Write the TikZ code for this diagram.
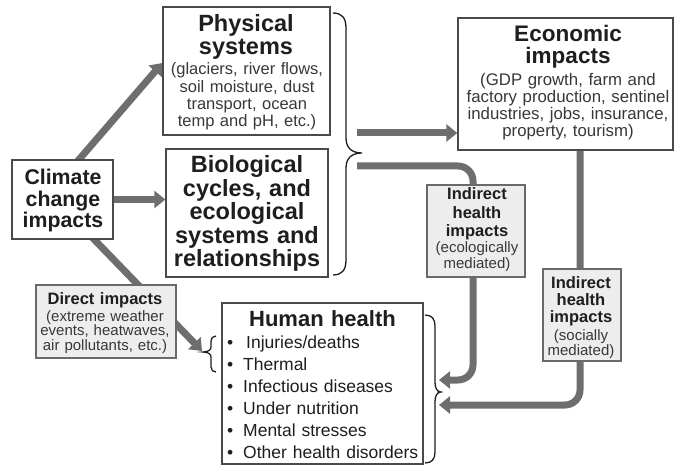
\documentclass[tikz,border=0pt]{standalone}
\usepackage{fontspec}
\setmainfont{Liberation Sans}
\usetikzlibrary{arrows.meta,calc}
\pgfdeclarelayer{bg}
\pgfsetlayers{bg,main}
\definecolor{arrc}{HTML}{6E6E6E}
\definecolor{boxc}{HTML}{4A4A4A}
\definecolor{labc}{HTML}{6A6A6A}
\definecolor{labf}{HTML}{EDEDED}
\definecolor{txtc}{HTML}{1E1E1E}
\definecolor{subc}{HTML}{383838}
\begin{document}
\begin{tikzpicture}[x=1pt,y=-1pt,
  mainbox/.style={draw=boxc, line width=1.3pt, fill=white, inner sep=0pt},
  labbox/.style={draw=labc, line width=1.1pt, fill=labf, inner sep=0pt},
  fatarrow/.style={draw=arrc, line width=7pt, -{Triangle[length=11pt,width=17pt]}},
  bracepath/.style={draw=txtc, line width=1.3pt},
  tx/.style={inner sep=0pt, anchor=base, align=center, text=txtc},
  txl/.style={inner sep=0pt, anchor=base west, align=left, text=txtc}]
\useasboundingbox (0,0) rectangle (675,465);

% ---------- coordinates used by connectors
\coordinate (bb1) at (357,133);
\coordinate (bb2) at (357,166);
\coordinate (hb1) at (439,380);
\coordinate (hb2) at (439,405);
\coordinate (sbr) at (202,351);
\coordinate (ecoturn) at (473,166);

% ---------- main boxes
\node[mainbox, minimum width=167pt, minimum height=128pt] (phys) at (246.5,71) {};
\node[mainbox, minimum width=162pt, minimum height=128pt] (bio) at (247,213) {};
\node[mainbox, minimum width=101pt, minimum height=79pt] (clim) at (62.5,199.5) {};
\node[mainbox, minimum width=215pt, minimum height=132pt] (econ) at (565.5,84) {};
\node[mainbox, minimum width=201pt, minimum height=161pt] (hh) at (322.5,383.5) {};

% ---------- label boxes (over the arrows)
\node[labbox, minimum width=98pt, minimum height=92pt] (ieco) at (476,231) {};
\node[labbox, minimum width=78pt, minimum height=92pt] (isoc) at (582,315) {};
\node[labbox, minimum width=140pt, minimum height=73pt] (dir) at (106,321.5) {};

% ---------- arrows, behind the boxes
\begin{pgfonlayer}{bg}
\draw[fatarrow] ($(clim.north)+(11.5,6)$) -- ($(phys.west)+(0,-8)$);
\draw[fatarrow] (clim.east) -- (clim.east -| bio.west);
\draw[fatarrow] ($(clim.south)+(28,-4)$) -- (sbr);
\draw[fatarrow] (bb1) -- (bb1 -| econ.west);
\draw[fatarrow, rounded corners=15pt] (bb2) -- (ecoturn) -- (ecoturn |- hb1) -- (hb1);
\draw[fatarrow, rounded corners=15pt] ($(econ.south)+(14.5,-2)$) |- (hb2);
\end{pgfonlayer}

% ---------- braces
\draw[bracepath] (333,13) .. controls (342,13) and (346,18) .. (346,28) -- (346,138)
  .. controls (346,148) and (352,153) .. (362,153)
  .. controls (352,153) and (346,158) .. (346,168) -- (346,260)
  .. controls (346,270) and (342,275) .. (333,275);
\draw[bracepath] (425,315) .. controls (432,315) and (435,319) .. (435,326) -- (435,382)
  .. controls (435,388) and (437,392) .. (441,392)
  .. controls (437,392) and (435,396) .. (435,402) -- (435,452)
  .. controls (435,459) and (432,463) .. (425,463);
\draw[bracepath] (216,336) .. controls (213,336) and (211,338) .. (211,342) -- (211,347)
  .. controls (211,350) and (208,352) .. (203,352)
  .. controls (208,352) and (211,354) .. (211,357) -- (211,367)
  .. controls (211,370) and (213,372) .. (216,372);

% ---------- texts
\node[tx, text width=167pt, font=\fontsize{23.5}{23}\selectfont\bfseries] (physH) at (246,32) {Physical\\systems};
\node[tx, text width=167pt, font=\fontsize{16.5}{17.3}\selectfont, text=subc] (physS) at (247,75)
  {(glaciers, river flows,\\soil moisture, dust\\transport, ocean\\temp and pH, etc.)};
\node[tx, text width=162pt, font=\fontsize{23.5}{23.5}\selectfont\bfseries] (bioT) at (247,173)
  {Biological\\cycles, and\\ecological\\systems and\\relationships};
\node[tx, text width=101pt, font=\fontsize{21.3}{21.5}\selectfont\bfseries] (climT) at (63,185)
  {Climate\\change\\impacts};
\node[tx, text width=215pt, font=\fontsize{22.5}{21.5}\selectfont\bfseries] (econH) at (568,42)
  {Economic\\impacts};
\node[tx, text width=215pt, font=\fontsize{16.8}{17}\selectfont, text=subc] (econS) at (568,86)
  {(GDP growth, farm and\\factory production, sentinel\\industries, jobs, insurance,\\property, tourism)};
\node[tx, text width=98pt, font=\fontsize{16.5}{18.5}\selectfont\bfseries] (iecoH) at (477,200)
  {Indirect\\health\\impacts};
\node[tx, text width=98pt, font=\fontsize{15}{15.5}\selectfont, text=subc] (iecoS) at (477,253)
  {(ecologically\\mediated)};
\node[tx, text width=78pt, font=\fontsize{16.5}{17.5}\selectfont\bfseries] (isocH) at (581,288)
  {Indirect\\health\\impacts};
\node[tx, text width=78pt, font=\fontsize{15}{15}\selectfont, text=subc] (isocS) at (581,340)
  {(socially\\mediated)};
\node[tx, text width=140pt, font=\fontsize{16.5}{16.5}\selectfont\bfseries] (dirH) at (105,305)
  {Direct impacts};
\node[tx, text width=140pt, font=\fontsize{15}{14.5}\selectfont, text=subc] (dirS) at (105,321)
  {(extreme weather\\events, heatwaves,\\air pollutants, etc.)};
\node[tx, text width=201pt, font=\fontsize{22}{22}\selectfont\bfseries] (hhH) at (322.5,326)
  {Human health};
\node[txl, text width=195pt, font=\fontsize{17.5}{22.2}\selectfont] (hhL) at (227,348)
  {\makebox[16pt][l]{•}\hspace{3pt}Injuries/deaths\\
   \makebox[16pt][l]{•}Thermal\\
   \makebox[16pt][l]{•}Infectious diseases\\
   \makebox[16pt][l]{•}Under nutrition\\
   \makebox[16pt][l]{•}Mental stresses\\
   \makebox[16pt][l]{•}Other health disorders};
\end{tikzpicture}
\end{document}
